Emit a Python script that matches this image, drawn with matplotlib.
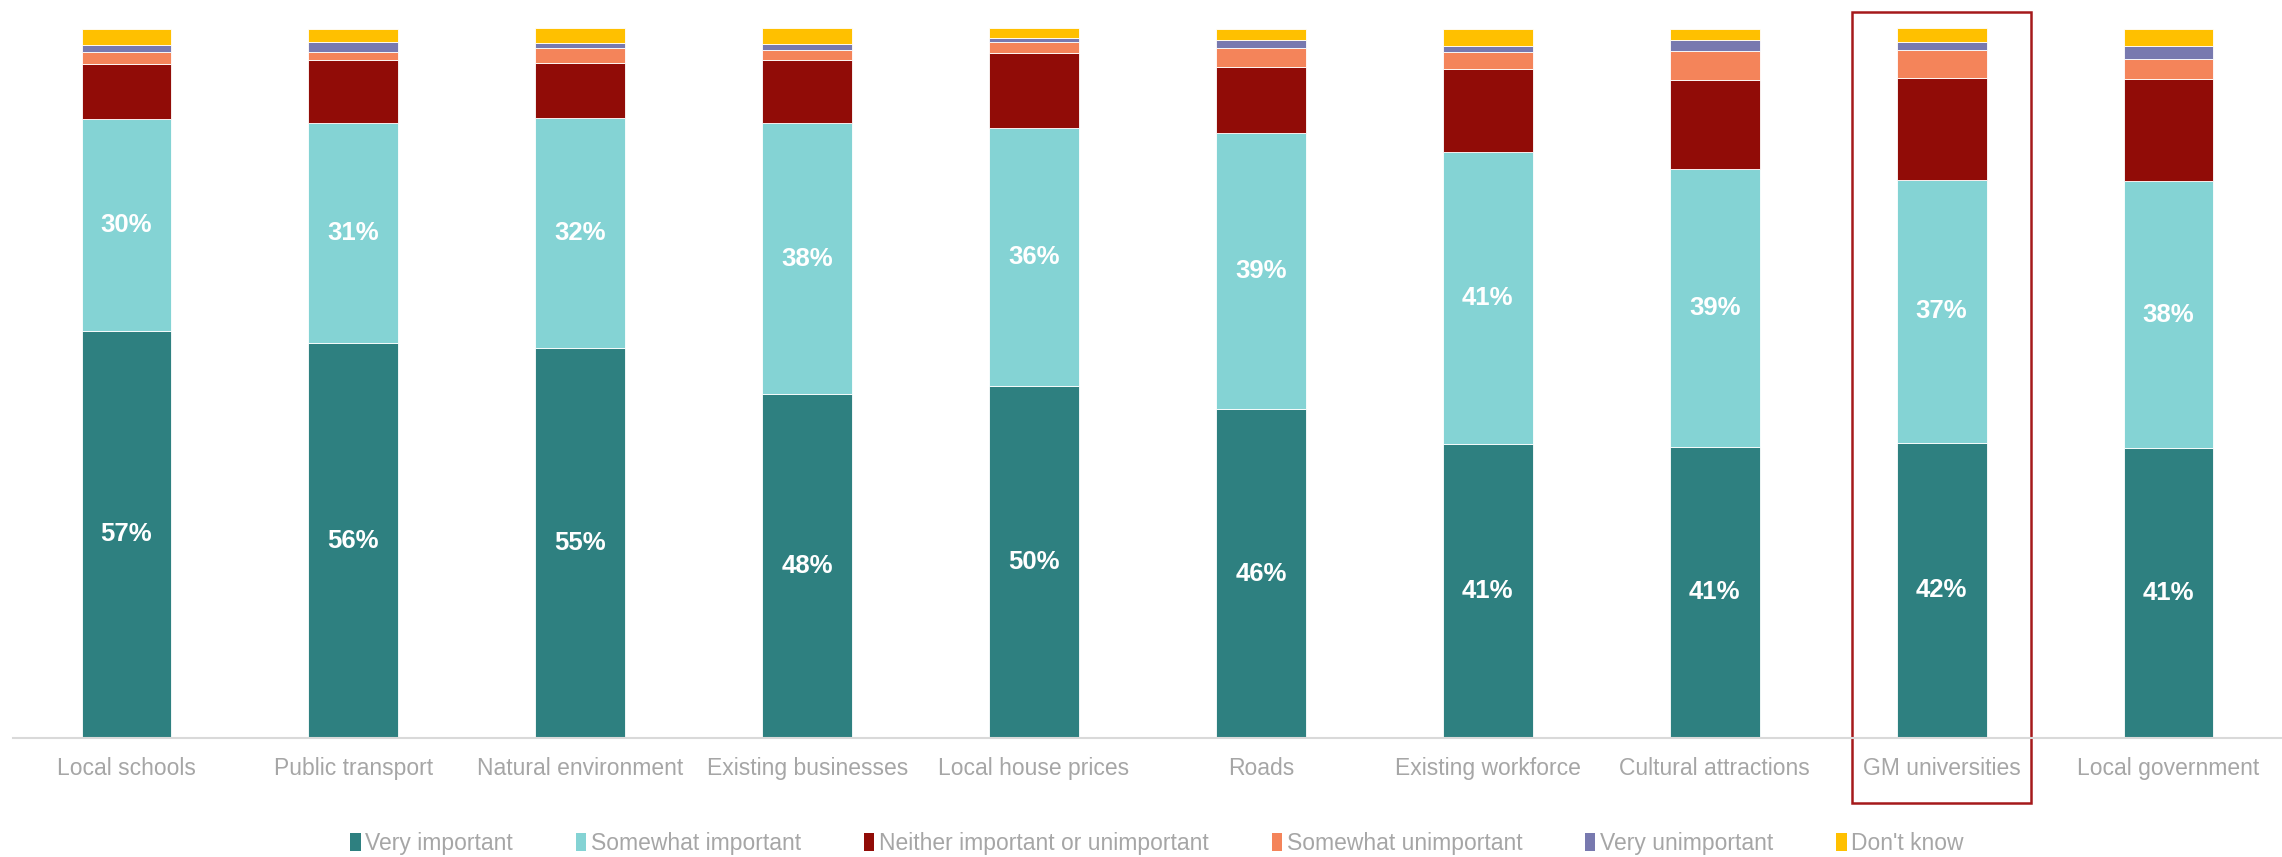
import matplotlib
matplotlib.use('Agg')
import numpy as np
from matplotlib import pyplot as plt
from matplotlib.patches import Patch, Rectangle

categories = ['Local schools', 'Public transport', 'Natural environment', 'Existing businesses',
              'Local house prices', 'Roads', 'Existing workforce', 'Cultural attractions',
              'GM universities', 'Local government']

very_important = [57.4, 55.6, 55.0, 48.4, 49.6, 46.3, 41.4, 41.0, 41.6, 40.8]
somewhat_important = [29.8, 31.1, 32.3, 38.3, 36.3, 39.0, 41.1, 39.1, 37.0, 37.7]
neither = [7.7, 8.8, 7.8, 8.9, 10.6, 9.2, 11.7, 12.6, 14.4, 14.3]
somewhat_unimportant = [1.8, 1.1, 2.1, 1.4, 1.6, 2.7, 2.4, 4.1, 3.9, 2.9]
very_unimportant = [1.0, 1.45, 0.7, 0.8, 0.5, 1.2, 0.85, 1.6, 1.2, 1.8]
dont_know = [2.2, 1.9, 2.1, 2.2, 1.4, 1.5, 2.5, 1.5, 1.9, 2.45]

series_names = ['Very important', 'Somewhat important', 'Neither important or unimportant',
                'Somewhat unimportant', 'Very unimportant', "Don't know"]
colors = ['#2E8080', '#84D3D4', '#910C07', '#F4845A', '#7879AF', '#FFC000']
highlight = 'GM universities'

series = [very_important, somewhat_important, neither,
          somewhat_unimportant, very_unimportant, dont_know]

font = ['Liberation Sans', 'DejaVu Sans']
grey = '#A6A6A6'

fig = plt.figure(figsize=(22.82, 8.57), dpi=100)
ax = fig.add_axes([0.0057, 0.139, 0.9943, 0.828])

x = np.arange(len(categories))
bottom = np.zeros(len(categories))
for i, (vals, name, c) in enumerate(zip(series, series_names, colors)):
    vals = np.array(vals)
    ax.bar(x, vals, 0.396, bottom=bottom, color=c, edgecolor='white',
           linewidth=0.6, label=name)
    # only the two big series get labels
    if i < 2:
        for xi, b, v in zip(x, bottom, vals):
            ax.text(xi, b + v / 2, f'{round(v)}%', ha='center', va='center',
                    color='white', fontsize=18.5, fontweight='bold', family=font)
    bottom += vals

ax.set_xlim(-0.5, len(categories) - 0.5)
ax.set_ylim(0, 100)
ax.set_xticks(x)
ax.set_xticklabels(categories, fontsize=16.5, color=grey, family=font)
ax.tick_params(axis='x', length=0, pad=14)
ax.set_yticks([])
for s in ['top', 'right', 'left']:
    ax.spines[s].set_visible(False)
ax.spines['bottom'].set_color('#D9D9D9')
ax.spines['bottom'].set_linewidth(1.5)

# box around the highlighted category
hi = categories.index(highlight)
ax.add_patch(Rectangle((hi - 0.395, -9.2), 0.79, 111.5, fill=False,
                       edgecolor='#A5191B', linewidth=1.8, clip_on=False))

handles = [Patch(facecolor=c, edgecolor='none') for c in colors]
leg = fig.legend(handles, series_names, loc='center', bbox_to_anchor=(0.507, 0.016),
                 ncol=6, frameon=False, handlelength=0.45, handleheight=0.85,
                 handletextpad=0.2, columnspacing=2.75,
                 prop={'family': font, 'size': 16.5})
for t in leg.get_texts():
    t.set_color(grey)

plt.savefig('out.png', dpi=100)
